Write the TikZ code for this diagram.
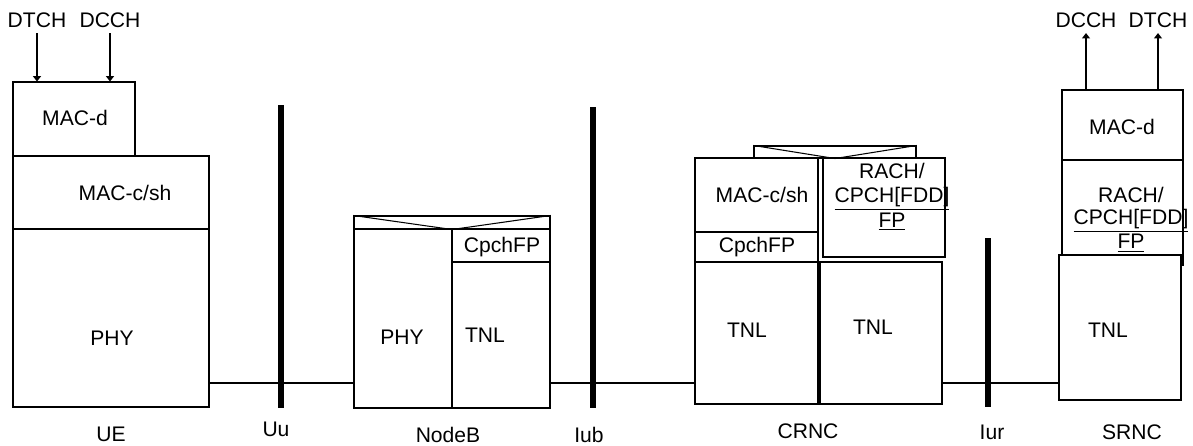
\documentclass[tikz,border=0pt]{standalone}
\usepackage{fontspec}
\setmainfont{Liberation Sans}
\usetikzlibrary{fit,arrows.meta}

\begin{document}
\begin{tikzpicture}[x=0.02cm, y=-0.02cm, font=\fontsize{12}{14}\selectfont,
  box/.style={draw, inner sep=0pt, line width=0.6pt},
  txt/.style={inner sep=0pt},
  chan/.style={inner sep=3pt},
  bar/.style={fill, inner sep=0pt, minimum width=0.12cm},
  ch/.style={line width=0.6pt, -{Triangle[length=3pt,width=4.5pt]}},
  link/.style={line width=0.6pt}]
  \useasboundingbox (0,0) rectangle (1193,446);
  \coordinate (lk) at (0,383);

  % UE
  \node[box, fit={(13,82) (135,156)}] (uemacd) {};
  \node[box, fit={(13,156) (209,229)}] (uemac) {};
  \node[box, fit={(13,229) (209,407)}] (uephy) {};
  \node[txt] (t1) at (75,118) {MAC-d};
  \node[txt] (t2) at (125,193) {MAC-c/sh};
  \node[txt] (t3) at (112,338) {PHY};
  \node[txt] (ue) at (111,434) {UE};
  \node[chan] (dtch) at (37,20) {DTCH};
  \node[chan] (dcch) at (110,20) {DCCH};
  \draw[ch] (dtch.south) -- (dtch.south |- uemacd.north);
  \draw[ch] (dcch.south) -- (dcch.south |- uemacd.north);

  % NodeB
  \node[box, fit={(354,216) (550,229)}] (nbhead) {};
  \node[box, fit={(354,229) (452,408)}] (nbphy) {};
  \node[box, fit={(452,229) (550,262)}] (nbcp) {};
  \node[box, fit={(452,262) (550,408)}] (nbtnl) {};
  \draw[link] (nbhead.north west) -- (nbhead.south) -- (nbhead.north east);
  \node[txt] (t4) at (402,337) {PHY};
  \node[txt] (t5) at (502,247) {CpchFP};
  \node[txt] (t6) at (485,335) {TNL};
  \node[txt] (nb) at (448,435) {NodeB};

  % CRNC
  \node[box, fit={(754,146) (916,158)}] (crhead) {};
  \draw[link] (crhead.north west) -- (crhead.south) -- (crhead.north east);
  \node[box, fit={(695,158) (818,232)}] (crmac) {};
  \node[box, fit={(695,232) (818,262)}] (crcp) {};
  \node[box, fit={(695,262) (818,404)}] (crtnl) {};
  \node[box, fit={(823,158) (945,257)}] (crrach) {};
  \node[box, fit={(820,262) (942,404)}] (crtnlb) {};
  \node[txt] (t7) at (762,195) {MAC-c/sh};
  \node[txt] (t8) at (757,247) {CpchFP};
  \node[txt, align=center, font=\fontsize{12}{13.9}\selectfont] (t9) at (892,197)
    {RACH/\\\underline{CPCH[FDD]}\\\underline{FP}};
  \node[txt] (t10) at (747,330) {TNL};
  \node[txt] (t11) at (873,327) {TNL};
  \node[txt] (cr) at (808,431) {CRNC};

  % SRNC
  \node[box, fit={(1062,90) (1183,160)}] (srmacd) {};
  \node[box, fit={(1062,160) (1183,265)}] (srrach) {};
  \node[txt] (t12) at (1122,127) {MAC-d};
  \node[txt, align=center, font=\fontsize{12}{12.5}\selectfont] (t13) at (1131,220)
    {RACH/\\\underline{CPCH[FDD]}\\\underline{FP}};
  \node[box, fill=white, line width=1pt, fit={(1059,255) (1181,400)}] (srtnl) {};
  \node[txt] (t14) at (1108,330) {TNL};
  \node[txt] (sr) at (1132,432) {SRNC};
  \node[chan] (dcchs) at (1086,20) {DCCH};
  \node[chan] (dtchs) at (1158,20) {DTCH};
  \draw[ch] (dcchs.south |- srmacd.north) -- (dcchs.south);
  \draw[ch] (dtchs.south |- srmacd.north) -- (dtchs.south);

  % links and interfaces
  \draw[link] (uephy.east |- lk) -- (nbphy.west |- lk);
  \draw[link] (nbtnl.east |- lk) -- (crtnl.west |- lk);
  \draw[link] (crtnlb.east |- lk) -- (srtnl.west |- lk);
  \node[bar, minimum height=6.06cm] (uu) at (281,256.5) {};
  \node[bar, minimum height=6.02cm] (iub) at (593,257.5) {};
  \node[bar, minimum height=3.38cm] (iur) at (988,322.5) {};
  \node[txt] (uul) at (276,429) {Uu};
  \node[txt] (iubl) at (589,435) {Iub};
  \node[txt] (iurl) at (992,432) {Iur};
\end{tikzpicture}
\end{document}
